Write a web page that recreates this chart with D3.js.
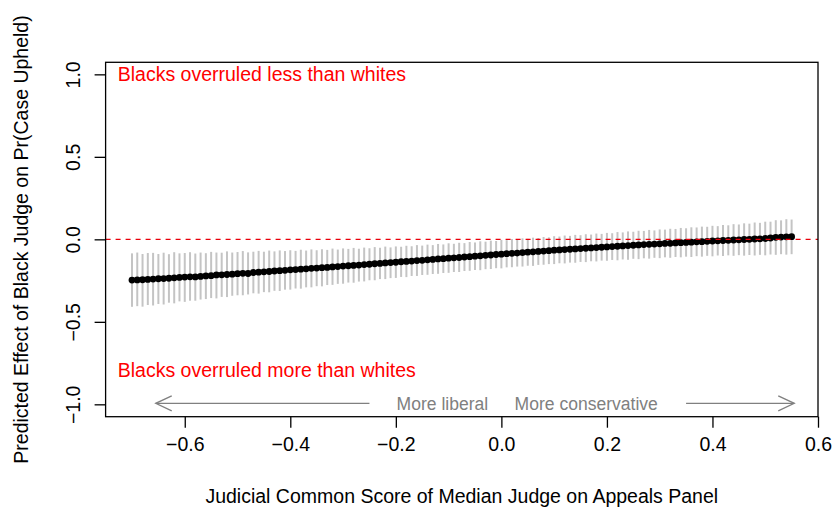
<!DOCTYPE html>
<html>
<head>
<meta charset="utf-8">
<script src="https://cdn.jsdelivr.net/npm/d3@7"></script>
<style>
  html, body { margin: 0; padding: 0; background: #ffffff; }
  svg { display: block; }
  text { font-family: "Liberation Sans", Arial, Helvetica, sans-serif; }
</style>
</head>
<body>
<svg id="chart" width="835" height="510"></svg>
<script>
// Judicial Common Score of the median judge, -0.70 to 0.55 in steps of 0.01
const scores = [
  -0.70, -0.69, -0.68, -0.67, -0.66, -0.65, -0.64, -0.63, -0.62, -0.61,
  -0.60, -0.59, -0.58, -0.57, -0.56, -0.55, -0.54, -0.53, -0.52, -0.51,
  -0.50, -0.49, -0.48, -0.47, -0.46, -0.45, -0.44, -0.43, -0.42, -0.41,
  -0.40, -0.39, -0.38, -0.37, -0.36, -0.35, -0.34, -0.33, -0.32, -0.31,
  -0.30, -0.29, -0.28, -0.27, -0.26, -0.25, -0.24, -0.23, -0.22, -0.21,
  -0.20, -0.19, -0.18, -0.17, -0.16, -0.15, -0.14, -0.13, -0.12, -0.11,
  -0.10, -0.09, -0.08, -0.07, -0.06, -0.05, -0.04, -0.03, -0.02, -0.01,
   0.00,  0.01,  0.02,  0.03,  0.04,  0.05,  0.06,  0.07,  0.08,  0.09,
   0.10,  0.11,  0.12,  0.13,  0.14,  0.15,  0.16,  0.17,  0.18,  0.19,
   0.20,  0.21,  0.22,  0.23,  0.24,  0.25,  0.26,  0.27,  0.28,  0.29,
   0.30,  0.31,  0.32,  0.33,  0.34,  0.35,  0.36,  0.37,  0.38,  0.39,
   0.40,  0.41,  0.42,  0.43,  0.44,  0.45,  0.46,  0.47,  0.48,  0.49,
   0.50,  0.51,  0.52,  0.53,  0.54,  0.55
];

// Predicted effect of a black judge on Pr(case upheld)
const effect = [
  -0.247, -0.246, -0.245, -0.243, -0.241, -0.239, -0.238, -0.236, -0.233, -0.231,
  -0.229, -0.227, -0.228, -0.225, -0.222, -0.220, -0.216, -0.215, -0.213, -0.211,
  -0.208, -0.206, -0.207, -0.201, -0.199, -0.197, -0.195, -0.192, -0.190, -0.188,
  -0.185, -0.183, -0.181, -0.179, -0.176, -0.174, -0.172, -0.170, -0.167, -0.165,
  -0.162, -0.160, -0.158, -0.156, -0.153, -0.151, -0.148, -0.146, -0.143, -0.141,
  -0.139, -0.136, -0.134, -0.132, -0.129, -0.127, -0.124, -0.122, -0.119, -0.117,
  -0.114, -0.112, -0.110, -0.107, -0.105, -0.102, -0.100, -0.097, -0.095, -0.092,
  -0.090, -0.087, -0.085, -0.083, -0.080, -0.078, -0.076, -0.073, -0.071, -0.069,
  -0.066, -0.064, -0.062, -0.060, -0.058, -0.056, -0.054, -0.052, -0.050, -0.048,
  -0.046, -0.044, -0.042, -0.040, -0.038, -0.036, -0.034, -0.032, -0.030, -0.029,
  -0.027, -0.025, -0.024, -0.022, -0.020, -0.019, -0.017, -0.015, -0.014, -0.012,
  -0.010, -0.009, -0.007, -0.006, -0.004, -0.003, -0.001,  0.000,  0.002,  0.003,
   0.005,  0.008,  0.012,  0.014,  0.015,  0.016
];

// Upper end of each confidence interval
const upper = [
  -0.085, -0.080, -0.089, -0.083, -0.082, -0.089, -0.081, -0.090, -0.078, -0.085,
  -0.083, -0.078, -0.086, -0.080, -0.084, -0.076, -0.080, -0.081, -0.073, -0.080,
  -0.077, -0.071, -0.079, -0.075, -0.070, -0.075, -0.068, -0.073, -0.067, -0.071,
  -0.066, -0.070, -0.063, -0.068, -0.061, -0.066, -0.060, -0.064, -0.056, -0.062,
  -0.055, -0.058, -0.052, -0.057, -0.050, -0.054, -0.047, -0.051, -0.044, -0.049,
  -0.043, -0.045, -0.039, -0.042, -0.035, -0.038, -0.032, -0.035, -0.028, -0.031,
  -0.024, -0.027, -0.021, -0.023, -0.016, -0.019, -0.012, -0.014, -0.008, -0.010,
  -0.003, -0.005,  0.002, -0.002,  0.006,  0.003,  0.010,  0.008,  0.014,  0.012,
   0.019,  0.017,  0.023,  0.021,  0.027,  0.025,  0.031,  0.029,  0.035,  0.033,
   0.039,  0.037,  0.044,  0.042,  0.048,  0.046,  0.052,  0.051,  0.057,  0.054,
   0.060,  0.059,  0.064,  0.063,  0.069,  0.067,  0.073,  0.072,  0.077,  0.076,
   0.082,  0.080,  0.087,  0.085,  0.092,  0.090,  0.097,  0.095,  0.102,  0.100,
   0.107,  0.107,  0.116,  0.115,  0.122,  0.120
];

// Lower end of each confidence interval
const lower = [
  -0.409, -0.405, -0.408, -0.398, -0.401, -0.392, -0.395, -0.384, -0.388, -0.376,
  -0.379, -0.372, -0.372, -0.365, -0.362, -0.356, -0.358, -0.349, -0.350, -0.342,
  -0.339, -0.339, -0.334, -0.327, -0.329, -0.320, -0.321, -0.312, -0.313, -0.305,
  -0.305, -0.298, -0.299, -0.291, -0.291, -0.284, -0.285, -0.277, -0.276, -0.270,
  -0.269, -0.262, -0.263, -0.256, -0.255, -0.248, -0.248, -0.241, -0.241, -0.235,
  -0.234, -0.228, -0.229, -0.222, -0.222, -0.216, -0.215, -0.210, -0.209, -0.204,
  -0.203, -0.198, -0.198, -0.192, -0.191, -0.186, -0.187, -0.181, -0.180, -0.175,
  -0.176, -0.170, -0.169, -0.165, -0.165, -0.160, -0.161, -0.155, -0.154, -0.150,
  -0.150, -0.145, -0.146, -0.141, -0.142, -0.137, -0.138, -0.133, -0.134, -0.129,
  -0.130, -0.125, -0.127, -0.122, -0.124, -0.118, -0.120, -0.115, -0.117, -0.112,
  -0.114, -0.109, -0.112, -0.107, -0.109, -0.105, -0.107, -0.102, -0.105, -0.100,
  -0.103, -0.098, -0.101, -0.097, -0.100, -0.096, -0.099, -0.095, -0.098, -0.094,
  -0.097, -0.092, -0.094, -0.090, -0.093, -0.090
];

const xTicks = [-0.6, -0.4, -0.2, 0.0, 0.2, 0.4, 0.6];
const yTicks = [-1.0, -0.5, 0.0, 0.5, 1.0];

const points = scores.map((s, i) => ({ s, est: effect[i], lo: lower[i], hi: upper[i] }));

const svg = d3.select("#chart");
const FONT = 19.5;

const x = d3.scaleLinear().domain([-0.75, 0.6]).range([105.6, 818]);
const y = d3.scaleLinear().domain([-1.075, 1.073]).range([416.7, 62.3]);

// Confidence intervals
svg.append("g")
  .selectAll("line")
  .data(points)
  .join("line")
  .attr("x1", d => x(d.s)).attr("x2", d => x(d.s))
  .attr("y1", d => y(d.lo)).attr("y2", d => y(d.hi))
  .attr("stroke", "#c4c4c4")
  .attr("stroke-width", 2);

// Point estimates
svg.append("g")
  .selectAll("circle")
  .data(points)
  .join("circle")
  .attr("cx", d => x(d.s))
  .attr("cy", d => y(d.est))
  .attr("r", 3.4)
  .attr("fill", "#000000");

// Zero-effect reference line
svg.append("line")
  .attr("x1", x.range()[0]).attr("x2", x.range()[1])
  .attr("y1", y(0)).attr("y2", y(0))
  .attr("stroke", "#e8000b")
  .attr("stroke-width", 1.2)
  .attr("stroke-dasharray", "5,5");

// Plot frame
svg.append("rect")
  .attr("x", x.range()[0]).attr("y", y.range()[1])
  .attr("width", x.range()[1] - x.range()[0])
  .attr("height", y.range()[0] - y.range()[1])
  .attr("fill", "none")
  .attr("stroke", "#000000")
  .attr("stroke-width", 1.3);

// Bottom axis
const xAxis = svg.append("g")
  .attr("transform", `translate(0,${y.range()[0]})`)
  .call(d3.axisBottom(x).tickValues(xTicks).tickFormat(d3.format(".1f")).tickSize(11).tickPadding(9));
xAxis.select(".domain").remove();
xAxis.selectAll("line").attr("stroke", "#000").attr("stroke-width", 1.3);
xAxis.selectAll("text").attr("font-size", FONT).attr("fill", "#000")
  .attr("font-family", "'Liberation Sans', Arial, Helvetica, sans-serif");

// Left axis with labels running parallel to the axis
const yAxis = svg.append("g")
  .attr("transform", `translate(${x.range()[0]},0)`)
  .call(d3.axisLeft(y).tickValues(yTicks).tickFormat(d3.format(".1f")).tickSize(11));
yAxis.select(".domain").remove();
yAxis.selectAll("line").attr("stroke", "#000").attr("stroke-width", 1.3);
yAxis.selectAll("text")
  .attr("font-size", FONT).attr("fill", "#000")
  .attr("font-family", "'Liberation Sans', Arial, Helvetica, sans-serif")
  .attr("x", 0).attr("y", 0).attr("dy", null)
  .attr("text-anchor", "middle")
  .attr("transform", "translate(-26,0) rotate(-90)");

// Axis titles
svg.append("text")
  .attr("x", (x.range()[0] + x.range()[1]) / 2)
  .attr("y", 503)
  .attr("text-anchor", "middle")
  .attr("font-size", FONT)
  .text("Judicial Common Score of Median Judge on Appeals Panel");

svg.append("text")
  .attr("transform", `translate(28,${(y.range()[0] + y.range()[1]) / 2}) rotate(-90)`)
  .attr("text-anchor", "middle")
  .attr("font-size", FONT)
  .text("Predicted Effect of Black Judge on Pr(Case Upheld)");

// Region annotations
svg.append("text")
  .attr("x", x(-0.727)).attr("y", y(1.0)).attr("dy", "0.36em")
  .attr("font-size", FONT).attr("fill", "#ff0000")
  .text("Blacks overruled less than whites");

svg.append("text")
  .attr("x", x(-0.727)).attr("y", y(-0.79)).attr("dy", "0.36em")
  .attr("font-size", FONT).attr("fill", "#ff0000")
  .text("Blacks overruled more than whites");

// Ideology direction arrows
const GRAY = "#808080";
const arrowY = y(-1.0) - 1;
function arrow(fromX, toX) {
  const x0 = x(fromX), x1 = x(toX);
  const dir = Math.sign(x1 - x0);
  const g = svg.append("g").attr("stroke", GRAY).attr("stroke-width", 1.3).attr("fill", "none");
  g.append("line").attr("x1", x0).attr("x2", x1).attr("y1", arrowY).attr("y2", arrowY);
  g.append("path").attr("d",
    `M${x1 - dir * 16},${arrowY - 7.5} L${x1},${arrowY} L${x1 - dir * 16},${arrowY + 7.5}`);
}
arrow(-0.25, -0.655);
arrow(0.35, 0.555);

svg.append("text")
  .attr("x", x(-0.025)).attr("y", arrowY).attr("dy", "0.36em")
  .attr("text-anchor", "end")
  .attr("font-size", FONT * 0.9).attr("fill", GRAY)
  .text("More liberal");

svg.append("text")
  .attr("x", x(0.025)).attr("y", arrowY).attr("dy", "0.36em")
  .attr("text-anchor", "start")
  .attr("font-size", FONT * 0.9).attr("fill", GRAY)
  .text("More conservative");
</script>
</body>
</html>
